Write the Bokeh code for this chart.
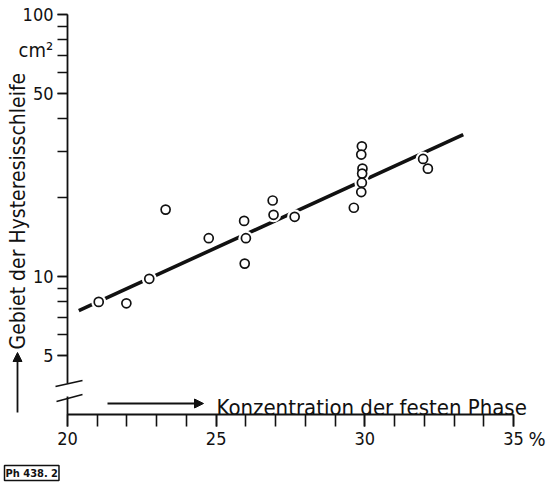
import math
from bokeh.plotting import figure
from bokeh.models import (FixedTicker, Label, Arrow, NormalHead, NumeralTickFormatter)
from bokeh.embed import file_html
from bokeh.resources import INLINE

# ---- data ----
konzentration = [21.05, 21.98, 22.75, 23.3, 24.75, 25.94, 26.0, 25.96, 26.9, 26.93,
                 27.64, 29.63, 29.9, 29.88, 29.92, 29.91, 29.9, 29.88, 31.96, 32.12]
flaeche = [8.0, 7.9, 9.8, 18.0, 14.0, 16.3, 14.0, 11.2, 19.5, 17.2,
           16.9, 18.3, 31.4, 29.2, 25.8, 24.7, 22.8, 21.0, 28.1, 25.8]
fit_x = [20.38, 33.31]
fit_y = [7.41, 34.8]

x_major = [20, 25, 30, 35]
x_minor = [20, 21, 22, 23, 24, 25, 26, 27, 28, 29, 30, 31, 32, 33, 34, 35]
y_major = [5, 10, 50, 100]
y_minor = [5, 6, 7, 8, 9, 10, 20, 30, 40, 50, 60, 70, 80, 90, 100]

FONT = "DejaVu Sans Condensed, DejaVu Sans"
INK = "#111111"

# axes: x 20..35 at 67..513 px ; y axis 262 px per decade, 100 at 14 px
X0, X1 = 20, 35
Y0, Y1 = 2.97, 100
PXU = (513 - 67) / (X1 - X0)


def dx(px):
    return X0 + (px - 67) / PXU


def dy(py):
    return 10 ** (math.log10(Y1) - (py - 14) / 262.0)


W, H = 559, 484
p = figure(width=W, height=H, y_axis_type="log",
           x_range=(dx(0), dx(W)), y_range=(dy(H), dy(0)),
           output_backend="svg", toolbar_location=None,
           min_border=0)
p.outline_line_color = None
p.xgrid.grid_line_color = None
p.ygrid.grid_line_color = None
p.background_fill_color = "white"
p.border_fill_color = "white"

# x axis
xa = p.xaxis[0]
xa.fixed_location = Y0
xa.bounds = (X0, X1)
xa.ticker = FixedTicker(ticks=x_major, minor_ticks=x_minor)
xa.axis_line_width = 1.8
xa.axis_line_color = INK
xa.major_tick_in = 0
xa.major_tick_out = 12
xa.minor_tick_in = 0
xa.minor_tick_out = 12
xa.major_tick_line_width = 1.6
xa.minor_tick_line_width = 1.6
xa.major_tick_line_color = INK
xa.minor_tick_line_color = INK
xa.major_label_text_font = FONT
xa.major_label_text_font_size = "18px"
xa.major_label_text_color = INK
xa.major_label_standoff = 5

# y axis
ya = p.yaxis[0]
ya.fixed_location = X0
ya.ticker = FixedTicker(ticks=y_major, minor_ticks=y_minor)
ya.formatter = NumeralTickFormatter(format="0")
ya.bounds = (dy(383), Y1)
ya.axis_line_width = 1.8
ya.axis_line_color = INK
ya.major_tick_in = 0
ya.major_tick_out = 10
ya.minor_tick_in = 0
ya.minor_tick_out = 10
ya.major_tick_line_width = 1.6
ya.minor_tick_line_width = 1.6
ya.major_tick_line_color = INK
ya.minor_tick_line_color = INK
ya.major_label_text_font = FONT
ya.major_label_text_font_size = "18px"
ya.major_label_text_color = INK
ya.major_label_standoff = 4

# regression line and points
p.line(fit_x, fit_y, line_width=3.6, line_color=INK)
p.scatter(konzentration, flaeche, size=15, fill_color="white", line_color=None)
p.scatter(konzentration, flaeche, size=9, fill_color="white",
          line_color=INK, line_width=1.7)

# lower piece of the broken y axis and the break marks
p.add_layout(Arrow(end=None, x_start=X0, y_start=Y0, x_end=X0, y_end=dy(396),
                   line_width=1.8, line_color=INK))
p.add_layout(Arrow(end=None, x_start=dx(55), y_start=dy(386), x_end=dx(82), y_end=dy(380),
                   line_width=1.6, line_color=INK))
p.add_layout(Arrow(end=None, x_start=dx(56), y_start=dy(401), x_end=dx(82), y_end=dy(394),
                   line_width=1.6, line_color=INK))

# axis titles with arrows
p.add_layout(Arrow(end=NormalHead(size=9, fill_color=INK, line_color=INK),
                   x_start=dx(107), y_start=dy(403), x_end=dx(203), y_end=dy(403),
                   line_width=1.8, line_color=INK))
p.add_layout(Label(x=dx(216), y=dy(407), text="Konzentration der festen Phase",
                   text_font=FONT, text_font_size="22px", text_color=INK,
                   text_baseline="alphabetic", text_align="left"))
p.add_layout(Arrow(end=NormalHead(size=9, fill_color=INK, line_color=INK),
                   x_start=dx(17), y_start=dy(412), x_end=dx(17), y_end=dy(352),
                   line_width=1.8, line_color=INK))
p.add_layout(Label(x=dx(17), y=dy(349), text="Gebiet der Hysteresisschleife",
                   angle=math.pi / 2, angle_units="rad",
                   text_font=FONT, text_font_size="21px", text_color=INK,
                   text_baseline="middle", text_align="left"))
p.add_layout(Label(x=dx(18), y=dy(49), text="cm²",
                   text_font=FONT, text_font_size="20px", text_color=INK,
                   text_baseline="alphabetic", text_align="left"))
p.add_layout(Label(x=dx(528), y=dy(438), text="%",
                   text_font=FONT, text_font_size="20px", text_color=INK,
                   text_baseline="middle", text_align="left"))
p.add_layout(Label(x=dx(4), y=dy(480), text="Ph 438. 2",
                   text_font=FONT, text_font_size="11px", text_font_style="bold",
                   text_color=INK, text_baseline="bottom", text_align="left",
                   border_line_color=INK, border_line_width=1.5,
                   padding=1))

open("out.html", "w").write(file_html(p, INLINE))
